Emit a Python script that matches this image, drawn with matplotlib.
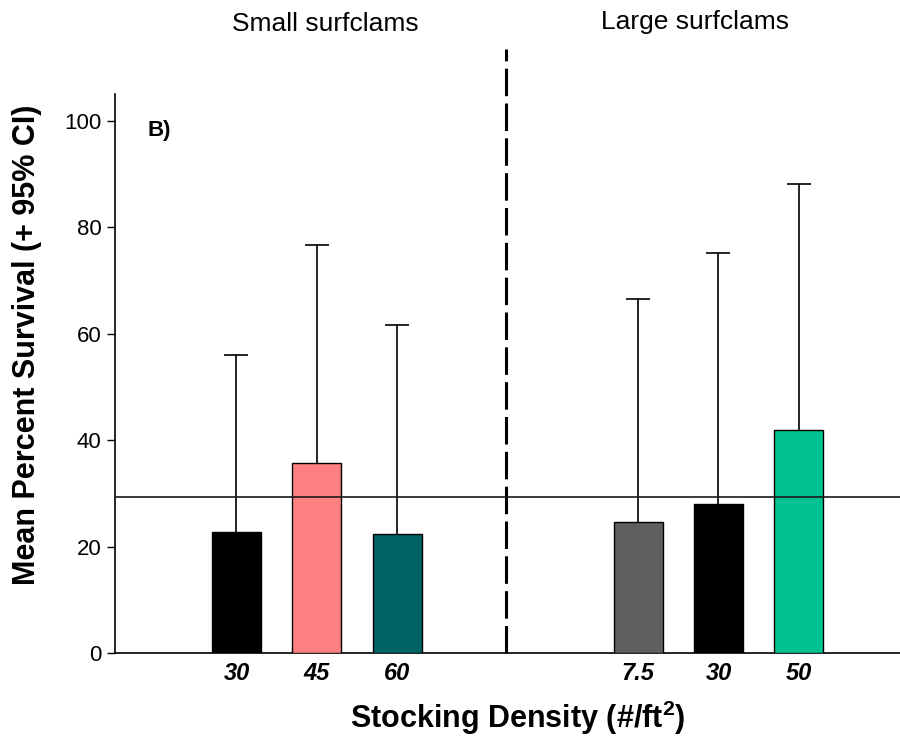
import matplotlib
matplotlib.use("Agg")
import matplotlib.pyplot as plt

plt.rcParams["font.family"] = ["Liberation Sans", "DejaVu Sans"]
plt.rcParams["mathtext.fontset"] = "custom"
plt.rcParams["mathtext.rm"] = "Liberation Sans"
plt.rcParams["mathtext.bf"] = "Liberation Sans:bold"

# Data
densities = ["30", "45", "60", "7.5", "30", "50"]
positions = [0, 1, 2, 5, 6, 7]
mean_survival = [22.8, 35.7, 22.4, 24.6, 28.0, 41.9]
upper_ci = [56.1, 76.6, 61.7, 66.6, 75.2, 88.1]
overall_mean = 29.3
bar_colors = ["#000000", "#FF8080", "#006262", "#5F5F5F", "#000000", "#00C190"]
group_labels = ["Small surfclams", "Large surfclams"]

fig = plt.figure(figsize=(9, 7.4), dpi=100)
ax = fig.add_axes([0.128, 0.117, 0.872, 0.756])

ax.bar(positions, mean_survival, width=0.61, color=bar_colors,
       edgecolor="black", linewidth=1.0, zorder=3)
# upper half of the 95% CI only: stem + cap
ax.vlines(positions, mean_survival, upper_ci, color="black", linewidth=1.2, zorder=2)
ax.plot(positions, upper_ci, linestyle="none", marker="_", markersize=17,
        markeredgewidth=1.2, color="black", zorder=2)

# overall mean line and group separator
ax.axhline(overall_mean, color="#1a1a1a", linewidth=1.2, zorder=4)
ax.plot([3.36, 3.36], [0, 113.5], color="black", linewidth=2.2,
        linestyle=(0, (9, 2.4)), clip_on=False, zorder=1)

ax.set_xlim(-1.51, 8.26)
ax.set_ylim(0, 105)
ax.set_yticks([0, 20, 40, 60, 80, 100])
ax.tick_params(axis="y", length=6, width=1.0, labelsize=16, pad=4)
ax.set_xticks(positions)
ax.set_xticklabels(densities, fontsize=17, fontweight="bold", fontstyle="italic")
ax.tick_params(axis="x", length=0, pad=6)

for side in ["top", "right"]:
    ax.spines[side].set_visible(False)
ax.spines["left"].set_linewidth(1.2)
ax.spines["bottom"].set_linewidth(1.2)

fig.text(0.03, 0.534, "Mean Percent Survival (+ 95% CI)", rotation=90,
         ha="center", va="center", fontsize=22, fontweight="bold")
fig.text(0.575, 0.03, r"Stocking Density (#/ft$^{\mathbf{2}}$)",
         ha="center", va="center", fontsize=22, fontweight="bold")

fig.text(0.362, 0.967, group_labels[0], ha="center", va="center", fontsize=19)
fig.text(0.772, 0.970, group_labels[1], ha="center", va="center", fontsize=19)
fig.text(0.164, 0.824, "B)", ha="left", va="center", fontsize=16, fontweight="bold")

fig.savefig("out.png", dpi=100)
